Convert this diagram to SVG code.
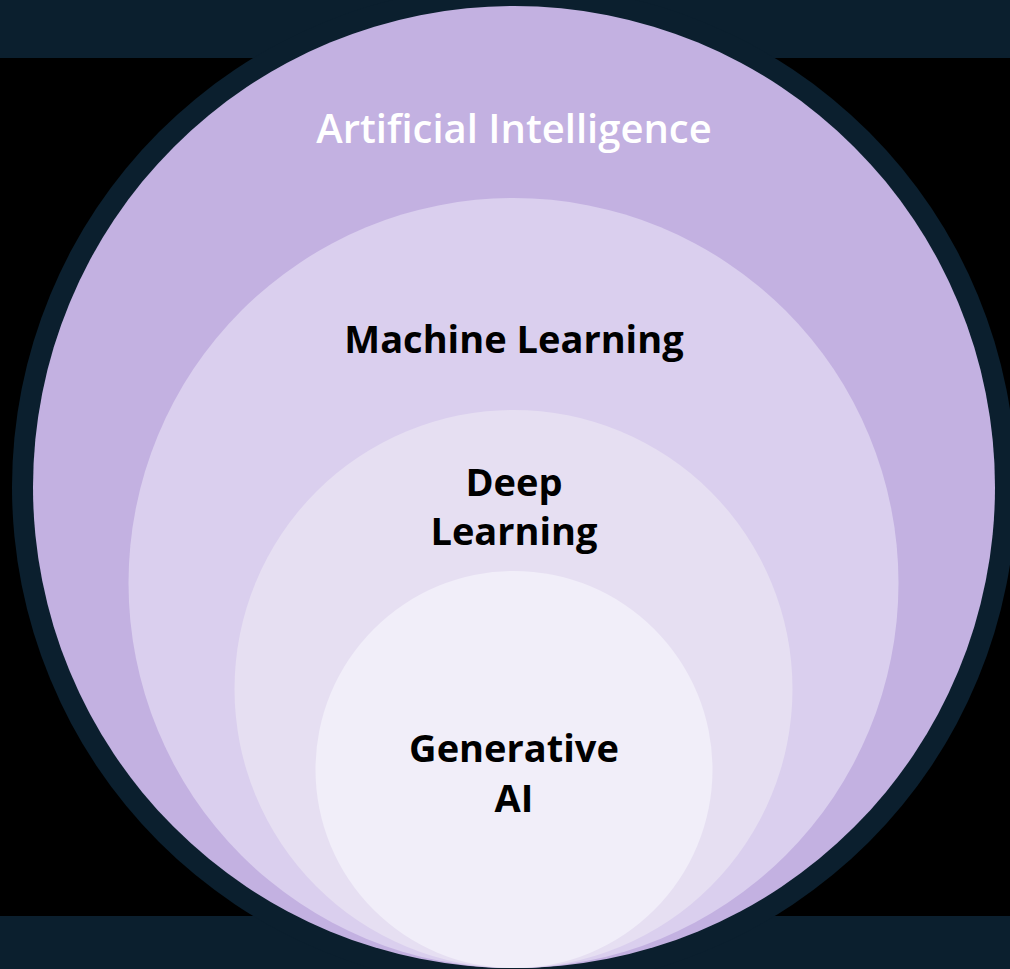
<svg xmlns="http://www.w3.org/2000/svg" width="1010" height="969" viewBox="0 0 1010 969">
<style>
.lbl{font-family:"Open Sans","Noto Sans","DejaVu Sans",sans-serif;font-weight:700;font-size:38px;text-anchor:middle}
.dark{fill:#000000}
.light{fill:#ffffff;font-weight:600;font-size:40px}
</style>
<g id="background">
<rect x="0" y="0" width="1010" height="969" fill="#000000"/>
<rect x="0" y="0" width="1010" height="58" fill="#0b1f2e"/>
<rect x="0" y="916" width="1010" height="53" fill="#0b1f2e"/>
<circle cx="514" cy="487" r="502" fill="#0b1f2e"/>
</g>
<g id="ai">
<circle cx="514" cy="487" r="481" fill="#c3b1e1"/>
<text class="lbl light" x="514" y="143">Artificial Intelligence</text>
</g>
<g id="ml">
<circle cx="513.5" cy="583" r="385" fill="#dacfee"/>
<text class="lbl dark" x="514" y="353">Machine Learning</text>
</g>
<g id="dl">
<circle cx="513.5" cy="689" r="279" fill="#e6dff2"/>
<text class="lbl dark" x="514" y="496">Deep</text>
<text class="lbl dark" x="514" y="545">Learning</text>
</g>
<g id="genai">
<circle cx="514" cy="769.5" r="198.5" fill="#f1eef9"/>
<text class="lbl dark" x="514" y="762">Generative</text>
<text class="lbl dark" x="514" y="812">AI</text>
</g>
<g id="connectors"></g>
</svg>
